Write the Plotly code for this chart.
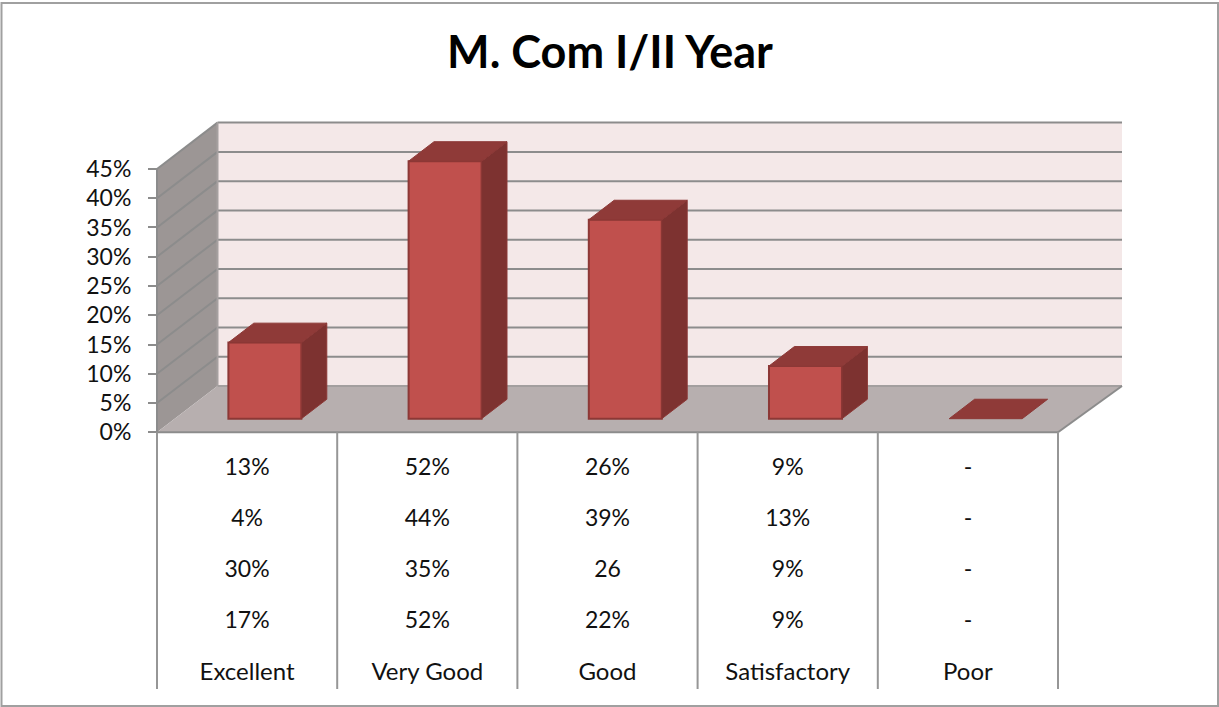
import plotly.graph_objects as go

# ---- data ----
categories = ["Excellent", "Very Good", "Good", "Satisfactory", "Poor"]
values = [13, 44, 34, 9, 0]
tick_values = [0, 5, 10, 15, 20, 25, 30, 35, 40, 45]
tick_labels = ["0%", "5%", "10%", "15%", "20%", "25%", "30%", "35%", "40%", "45%"]
row1 = ["13%", "52%", "26%", "9%", "-"]
row2 = ["4%", "44%", "39%", "13%", "-"]
row3 = ["30%", "35%", "26", "9%", "-"]
row4 = ["17%", "52%", "22%", "9%", "-"]
table_rows = [row1, row2, row3, row4]
title = "M. Com I/II Year"

# ---- layout constants ----
W, H = 1219, 707
FONT = "Lato"
X0_PX, X_UNIT = 157.0, 180.2
Y0_PX, Y_UNIT = 432.3, 5.853
XR = [-X0_PX / X_UNIT, (W - X0_PX) / X_UNIT]
YR = [-(H - Y0_PX) / Y_UNIT, Y0_PX / Y_UNIT]
DX, DY = 60.5 / X_UNIT, 46.3 / Y_UNIT    # chart depth in axis units
DX_R = 64 / X_UNIT                       # slight perspective at the right end
BAR_START, BAR_DEPTH = 0.294, 0.42       # fractions of the depth
BAR_W = 73 / X_UNIT
N = len(categories)
TOP = tick_values[-1]
GRID = "#8c8c8c"


def poly(xs, ys, fill):
    path = "M " + " L ".join(f"{x},{y}" for x, y in zip(xs, ys)) + " Z"
    return dict(type="path", path=path, xref="x", yref="y", fillcolor=fill,
                line=dict(width=0), layer="below")


def seg(x0, y0, x1, y1, color=GRID, width=2):
    return dict(type="line", x0=x0, y0=y0, x1=x1, y1=y1, xref="x", yref="y",
                line=dict(color=color, width=width), layer="below")


shapes = [
    poly([DX, N + DX_R, N + DX_R, DX], [DY, DY, DY + TOP, DY + TOP], "#f4e8e8"),
    poly([0, DX, DX, 0], [0, DY, DY + TOP, TOP], "#9c9695"),
    poly([0, N, N + DX_R, DX], [0, 0, DY, DY], "#b7afaf"),
]
for v in tick_values:
    shapes.append(seg(DX, v + DY, N + DX_R, v + DY, "#a39f9f" if v == 0 else GRID))
    if v:
        shapes.append(seg(0, v, DX, v + DY))
shapes += [seg(0, 0, N, 0), seg(N, 0, N + DX_R, DY), seg(0, 0, 0, TOP), seg(DX, DY, DX, DY + TOP, "#a5a0a0")]
# table lines
for i in range(N + 1):
    shapes.append(dict(type="line", x0=i, x1=i, y0=(H - 689) / H, y1=(H - 432.3) / H, xref="x", yref="paper",
                       line=dict(color="#969696", width=2)))
# chart frame
shapes.append(dict(type="rect", xref="paper", yref="paper", x0=1.5 / W, x1=(W - 1) / W,
                   y0=1 / H, y1=(H - 3) / H, line=dict(color="#a0a0a0", width=2), layer="below"))

fig = go.Figure()

# front faces
bar_x = [i + 0.5 + BAR_START * DX for i in range(N)]
bar_base = BAR_START * DY
fig.add_trace(go.Bar(
    x=bar_x, y=values, base=bar_base, width=BAR_W,
    marker=dict(color="#c0504d",
                line=dict(color="#8c3836", width=[2 if v else 0 for v in values])),
    showlegend=False, hoverinfo="skip"))

# side and top faces, derived from the values
for cx, v in zip(bar_x, values):
    l, r = cx - BAR_W / 2, cx + BAR_W / 2
    ox, oy = BAR_DEPTH * DX, BAR_DEPTH * DY
    top = bar_base + v
    if v:
        fig.add_trace(go.Scatter(
            x=[r, r + ox, r + ox, r, r], y=[bar_base, bar_base + oy, top + oy, top, bar_base],
            mode="lines", fill="toself", fillcolor="#7d3230", line=dict(color="#8c3836", width=1),
            showlegend=False, hoverinfo="skip"))
    fig.add_trace(go.Scatter(
        x=[l, r, r + ox, l + ox, l], y=[top, top, top + oy, top + oy, top],
        mode="lines", fill="toself", fillcolor="#8f3a38", line=dict(color="#8c3836", width=1),
        showlegend=False, hoverinfo="skip"))

# data table rows, on an overlaying pixel-row axis
row_centres = [469, 520, 571, 622]
for y, row in zip(row_centres, table_rows):
    fig.add_trace(go.Scatter(
        x=[i + 0.5 for i in range(N)], y=[y] * N, text=row, mode="text", yaxis="y2",
        textposition="middle center", textfont=dict(family=FONT, size=23, color="#111111"),
        showlegend=False, hoverinfo="skip"))

fig.update_layout(
    width=W, height=H, margin=dict(l=0, r=0, t=0, b=0),
    paper_bgcolor="white", plot_bgcolor="white", showlegend=False,
    title=dict(text=f"<b>{title}</b>", x=610 / W, xanchor="center", y=1 - 52 / H, yanchor="middle",
               font=dict(family=FONT, size=45, color="#000000")),
    xaxis=dict(range=XR, showgrid=False, zeroline=False, showline=False, ticks="",
               tickmode="array", tickvals=[i + 0.5 for i in range(N)], ticktext=categories,
               anchor="free", position=(H - 655) / H,
               tickfont=dict(family=FONT, size=24, color="#111111")),
    yaxis=dict(range=YR, showgrid=False, zeroline=False, showline=False,
               tickmode="array", tickvals=tick_values, ticktext=tick_labels,
               ticks="outside", ticklen=9, tickwidth=2, tickcolor=GRID, ticklabelstandoff=12,
               anchor="free", position=X0_PX / W,
               tickfont=dict(family=FONT, size=23, color="#111111")),
    yaxis2=dict(range=[H, 0], overlaying="y", visible=False),
    shapes=shapes,
)

fig.write_html("out.html", config={"displayModeBar": False},
               post_script="document.body.style.margin='0';document.body.style.overflow='hidden';")
